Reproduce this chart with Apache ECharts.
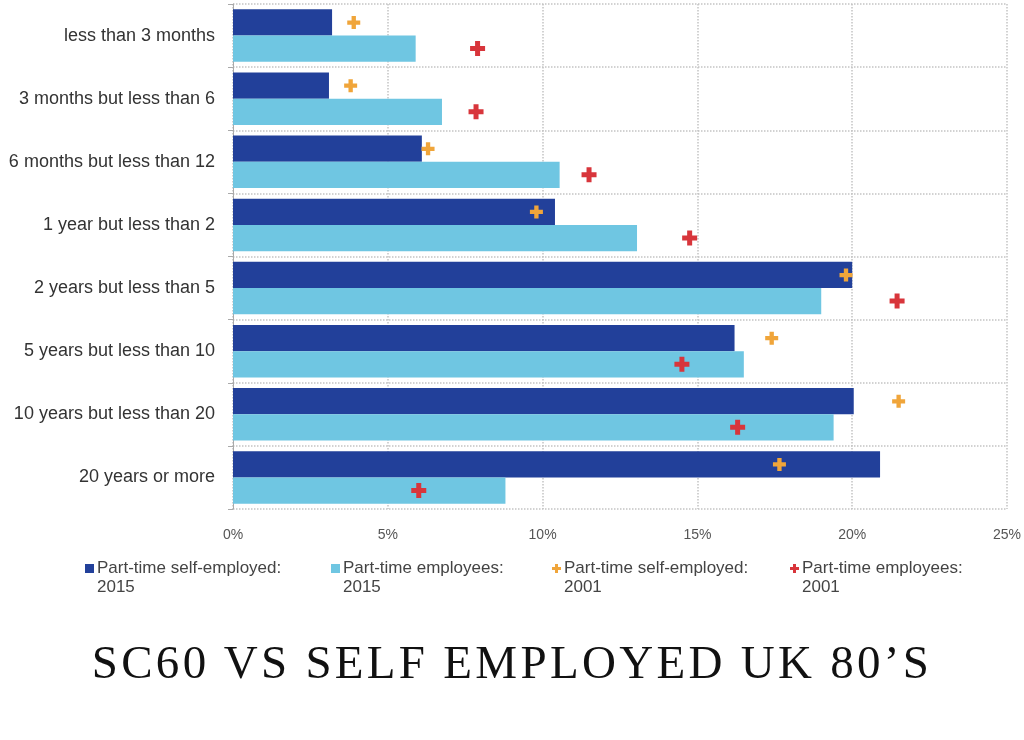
<!DOCTYPE html>
<html>
<head>
<meta charset="utf-8">
<script src="https://cdn.jsdelivr.net/npm/echarts@6/dist/echarts.min.js"></script>
<style>
html,body{margin:0;padding:0;background:#fff;overflow:hidden;}
#wrap{position:relative;width:1024px;height:740px;}
#chart{width:1024px;height:740px;}
#title{position:absolute;left:0;width:1024px;top:632px;text-align:center;font-family:'Liberation Serif',serif;font-size:47px;letter-spacing:3.3px;color:#111;white-space:nowrap;line-height:60px;}
</style>
</head>
<body>
<div id="wrap">
<div id="chart"></div>
<div id="title">SC60 VS SELF EMPLOYED UK 80&#8217;S</div>
</div>
<script>
const categories = [
  'less than 3 months',
  '3 months but less than 6',
  '6 months but less than 12',
  '1 year but less than 2',
  '2 years but less than 5',
  '5 years but less than 10',
  '10 years but less than 20',
  '20 years or more'
];
const selfEmployed2015 = [3.2, 3.1, 6.1, 10.4, 20.0, 16.2, 20.05, 20.9];
const employees2015 = [5.9, 6.75, 10.55, 13.05, 19.0, 16.5, 19.4, 8.8];
const selfEmployed2001 = [3.9, 3.8, 6.3, 9.8, 19.8, 17.4, 21.5, 17.65];
const employees2001 = [7.9, 7.85, 11.5, 14.75, 21.45, 14.5, 16.3, 6.0];
const xTicks = [0, 5, 10, 15, 20, 25];

const names = [
  'Part-time self-employed: 2015',
  'Part-time employees: 2015',
  'Part-time self-employed: 2001',
  'Part-time employees: 2001'
];
const colors = ['#22409a', '#6fc6e2', '#f0a53a', '#d8353b'];
const plus = 'path://M4,0h4v4h4v4h-4v4h-4v-4h-4v-4h4z';
// legend icons: mark sits at the top, aligned with the first text line
const legendSquare = 'path://M0,0h9v9h-9z M0,28h9';
const legendPlus = 'path://M4,0h4v4h4v4h-4v4h-4v-4h-4v-4h4z M0,37.33h12';

const chart = echarts.init(document.getElementById('chart'));
const legendLeft = [85, 331, 552, 790];
const legends = names.map((n, i) => ({
  data: [{ name: n, icon: i < 2 ? legendSquare : legendPlus }],
  left: legendLeft[i],
  top: 559,
  itemWidth: 9,
  itemHeight: 28,
  itemGap: 0,
  padding: 0,
  selectedMode: false,
  formatter: s => s.replace(': ', ':\n'),
  textStyle: { fontFamily: 'Liberation Sans', fontSize: 17, color: '#444', lineHeight: 19, padding: [0, 0, 0, -2] }
}));

chart.setOption({
  animation: false,
  backgroundColor: 'transparent',
  legend: legends,
  grid: { left: 233, right: 14, top: 4, bottom: 231, containLabel: false },
  xAxis: {
    type: 'value', min: 0, max: 25, interval: 5,
    axisLine: { show: false }, axisTick: { show: false },
    splitLine: { show: true, lineStyle: { color: '#c4c4c4', type: 'dotted', width: 1.5 } },
    axisLabel: { formatter: v => xTicks.includes(v) ? v + '%' : '', margin: 19, fontFamily: 'Liberation Sans', fontSize: 14, color: '#555' }
  },
  yAxis: {
    type: 'category', data: categories, inverse: true,
    axisLine: { show: true, lineStyle: { color: '#aaa', width: 1 } },
    axisTick: { show: true, length: 5, lineStyle: { color: '#aaa' } },
    splitLine: { show: true, lineStyle: { color: '#c4c4c4', type: 'dotted', width: 1.5 } },
    axisLabel: { margin: 18, fontFamily: 'Liberation Sans', fontSize: 18, color: '#333' }
  },
  series: [
    { name: names[0], type: 'bar', data: selfEmployed2015, itemStyle: { color: colors[0] }, barGap: '0%', barCategoryGap: '17%' },
    { name: names[1], type: 'bar', data: employees2015, itemStyle: { color: colors[1] }, barGap: '0%', barCategoryGap: '17%' },
    { name: names[2], type: 'scatter', symbol: plus, symbolSize: 13, symbolOffset: [0, -13],
      data: selfEmployed2001.map((v, i) => [v, i]), itemStyle: { color: colors[2], opacity: 1 }, z: 5 },
    { name: names[3], type: 'scatter', symbol: plus, symbolSize: 15, symbolOffset: [0, 13],
      data: employees2001.map((v, i) => [v, i]), itemStyle: { color: colors[3], opacity: 1 }, z: 5 }
  ]
});
</script>
</body>
</html>
